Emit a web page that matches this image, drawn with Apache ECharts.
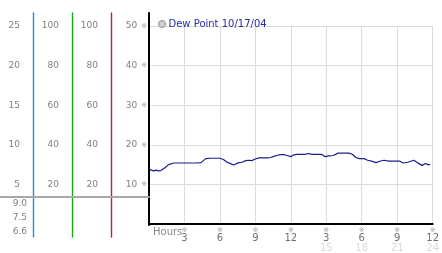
<!DOCTYPE html>
<html><head><meta charset="utf-8">
<script src="https://cdn.jsdelivr.net/npm/echarts@6/dist/echarts.min.js"></script>
<style>html,body{margin:0;padding:0;background:#fff}#c{width:442px;height:253px}</style>
</head><body><div id="c"></div>
<script>
const seriesName = 'Dew Point 10/17/04';
const hours = [0,0.4,0.6,0.8,1.0,1.1,1.35,1.65,1.8,2.1,2.5,3.0,3.5,4.0,4.4,4.6,4.8,5.2,5.6,6.0,6.3,6.6,6.85,7.15,7.3,7.6,7.85,8.0,8.2,8.45,8.7,9.0,9.3,9.7,10.0,10.3,10.5,10.8,11.1,11.4,11.5,11.7,12.0,12.2,12.5,12.9,13.2,13.5,13.8,14.2,14.6,14.9,15.2,15.6,16.0,16.4,16.9,17.2,17.5,17.8,18.2,18.5,18.9,19.2,19.6,19.9,20.3,20.8,21.2,21.5,21.9,22.4,22.7,23.1,23.4,23.6,23.8];
const dewPoint = [13.8,13.4,13.6,13.4,13.5,13.7,14.2,15.0,15.2,15.4,15.4,15.4,15.4,15.4,15.5,16.0,16.5,16.6,16.6,16.6,16.3,15.6,15.3,14.9,15.3,15.5,15.6,15.5,16.0,16.1,16.0,16.4,16.7,16.7,16.7,16.8,17.0,17.3,17.5,17.5,17.2,17.3,17.0,17.4,17.6,17.6,17.6,17.8,17.6,17.6,17.6,17.0,17.2,17.3,17.9,17.9,17.9,17.6,16.8,16.5,16.5,16.1,15.8,15.5,15.9,16.1,15.9,15.9,15.9,15.4,15.6,16.1,15.5,14.8,15.3,15.0,15.0];
const hourTicks = [3,6,9,12,15,18,21,24];
const hourLabelsTop = ['3','6','9','12','3','6','9','12'];
const hourLabelsBottom = ['','','','','15','18','21','24'];
const lowerLabels = ['9.0','7.5','6.6'];

const chart = echarts.init(document.getElementById('c'), null, {renderer:'canvas'});
const FONT = 'DejaVu Sans';
const LBL = '#808080';
const hidden = {show:false};
function colAxis(off, max, interval) {
  return {gridIndex:0, type:'value', position:'left', offset:off, min:0, max:max, interval:interval,
    axisLine:{show:false, onZero:false}, axisTick:hidden, splitLine:hidden,
    axisLabel:{show:true, showMinLabel:false, margin:13, color:LBL, fontFamily:FONT, fontSize:9}};
}
function lineAxis(grid, color, width) {
  return {gridIndex:grid, type:'value', position:'left', min:0, max:1,
    axisLine:{show:true, onZero:false, lineStyle:{color:color, width:width}}, axisTick:hidden, axisLabel:hidden, splitLine:hidden};
}
function hiddenX(grid) { return {gridIndex:grid, type:'value', min:0, max:1, show:false}; }
const option = {
  animation:false,
  backgroundColor:'#fff',
  legend:{left:153, top:14, icon:'circle', itemWidth:7, itemHeight:7, itemGap:4,
    textStyle:{color:'#2828a8', fontFamily:FONT, fontSize:10, padding:[0,0,0,-2]},
    data:[{name:seriesName, itemStyle:{color:'#d0d0d0', borderColor:'#909090', borderWidth:1}}]},
  grid:[
    {left:149, right:3, top:26, bottom:28},
    {left:149, right:3, top:13, bottom:28},
    {left:33, right:3, top:13, bottom:16},
    {left:72, right:3, top:13, bottom:16},
    {left:111, right:3, top:13, bottom:16},
    {left:0, width:149, top:197, height:42}
  ],
  xAxis:[
    {gridIndex:0, type:'value', min:0, max:24, interval:3,
      axisLine:{show:true, onZero:false, lineStyle:{color:'#000', width:2}}, axisTick:hidden,
      splitLine:{show:true, lineStyle:{color:'#dcdcdc', width:1}},
      axisLabel:{show:true, showMinLabel:false, margin:3, fontFamily:FONT, lineHeight:8,
        formatter:function(v){const i=hourTicks.indexOf(v); if(i<0) return '';
          let s='{m|※}\n{a|'+hourLabelsTop[i]+'}';
          if(hourLabelsBottom[i]) s+='\n{b|'+hourLabelsBottom[i]+'}';
          return s;},
        rich:{m:{fontSize:7,color:'#a0a0a0',lineHeight:7,fontFamily:FONT},
              a:{fontSize:10,color:'#707070',lineHeight:9,fontFamily:FONT},
              b:{fontSize:10,color:'#dadada',lineHeight:10,fontFamily:FONT}}}},
    hiddenX(1), hiddenX(2), hiddenX(3), hiddenX(4),
    {gridIndex:5, type:'value', min:0, max:1, position:'top', axisLine:{show:true, onZero:false, lineStyle:{color:'#a8a8a8', width:2}},
      axisTick:hidden, axisLabel:hidden, splitLine:hidden}
  ],
  yAxis:[
    {gridIndex:0, type:'value', min:0, max:50, interval:10, position:'left',
      axisLine:{show:true, onZero:false, lineStyle:{color:'#000', width:2}}, axisTick:hidden,
      splitLine:{show:true, lineStyle:{color:'#dcdcdc', width:1}},
      axisLabel:{show:true, showMinLabel:false, margin:2, fontFamily:FONT,
        formatter:function(v){return '{v|'+v+'} {m|※}';},
        rich:{v:{fontSize:9,color:LBL,fontFamily:FONT}, m:{fontSize:7,color:'#a0a0a0',fontFamily:FONT}}}},
    colAxis(116, 25, 5),
    colAxis(77, 100, 20),
    colAxis(38, 100, 20),
    lineAxis(1, '#000', 2),
    lineAxis(2, '#1e90d8', 1.4),
    lineAxis(3, '#1aa81a', 1.4),
    lineAxis(4, '#c81e1e', 1.4),
    {gridIndex:5, type:'category', data:lowerLabels, inverse:true, position:'left', offset:-33,
      axisLine:{show:false, onZero:false}, axisTick:hidden, splitLine:hidden,
      axisLabel:{show:true, margin:6, color:LBL, fontFamily:FONT, fontSize:9}}
  ],
  graphic:[{type:'text', left:153, top:227, style:{text:'Hours', fill:'#888', font:'10px "DejaVu Sans"'}}],
  series:[{name:seriesName, type:'line', xAxisIndex:0, yAxisIndex:0, showSymbol:false, symbol:'none',
    data:hours.map((h,i)=>[h, dewPoint[i]]),
    lineStyle:{color:'#1c1c8c', width:1.2}, itemStyle:{color:'#1c1c8c'}}]
};
chart.setOption(option);
</script></body></html>
